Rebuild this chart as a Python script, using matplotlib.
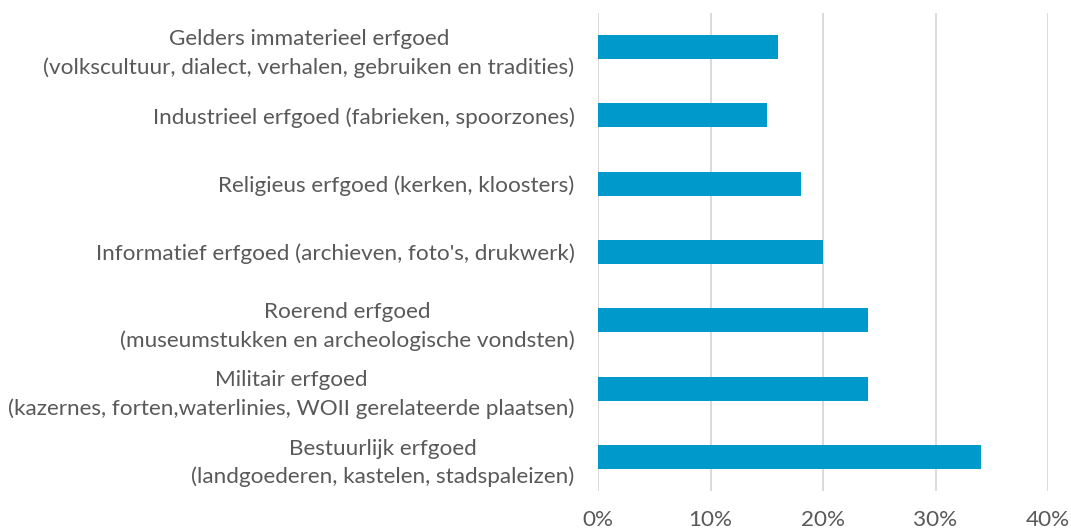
import matplotlib.pyplot as plt
from matplotlib.ticker import FuncFormatter

plt.rcParams['font.family'] = ['Lato', 'DejaVu Sans']

# data, top to bottom as in the chart
categories = [
    "Gelders immaterieel erfgoed\n(volkscultuur, dialect, verhalen, gebruiken en tradities)",
    "Industrieel erfgoed (fabrieken, spoorzones)",
    "Religieus erfgoed (kerken, kloosters)",
    "Informatief erfgoed (archieven, foto's, drukwerk)",
    "Roerend erfgoed\n(museumstukken en archeologische vondsten)",
    "Militair erfgoed\n(kazernes, forten,waterlinies, WOII gerelateerde plaatsen)",
    "Bestuurlijk erfgoed\n(landgoederen, kastelen, stadspaleizen)",
]
values = [16, 15, 18, 20, 24, 24, 34]
xticks = [0, 10, 20, 30, 40]

bar_color = "#0099CC"
text_color = "#595959"
grid_color = "#D9D9D9"

fig = plt.figure(figsize=(10.71, 5.31), dpi=100)
ax = fig.add_axes([598 / 1071, 1 - 491 / 531, (1048 - 598) / 1071, (491 - 13) / 531])

ypos = list(range(len(categories)))
ax.barh(ypos, values, height=0.35, color=bar_color, zorder=3)
ax.set_ylim(len(categories) - 0.5, -0.5)
ax.set_xlim(0, 40)

ax.set_yticks(ypos)
ax.set_yticklabels(categories, multialignment='center', linespacing=1.5)
ax.set_xticks(xticks)
ax.xaxis.set_major_formatter(FuncFormatter(lambda v, p: f"{v:.0f}%"))

for s in ax.spines.values():
    s.set_visible(False)
ax.grid(axis='x', color=grid_color, linewidth=1.4, zorder=0)
ax.tick_params(axis='both', length=0, colors=text_color, labelsize=16.2)
ax.tick_params(axis='y', pad=17)
ax.tick_params(axis='x', pad=14)

fig.savefig("out.png", dpi=100)
